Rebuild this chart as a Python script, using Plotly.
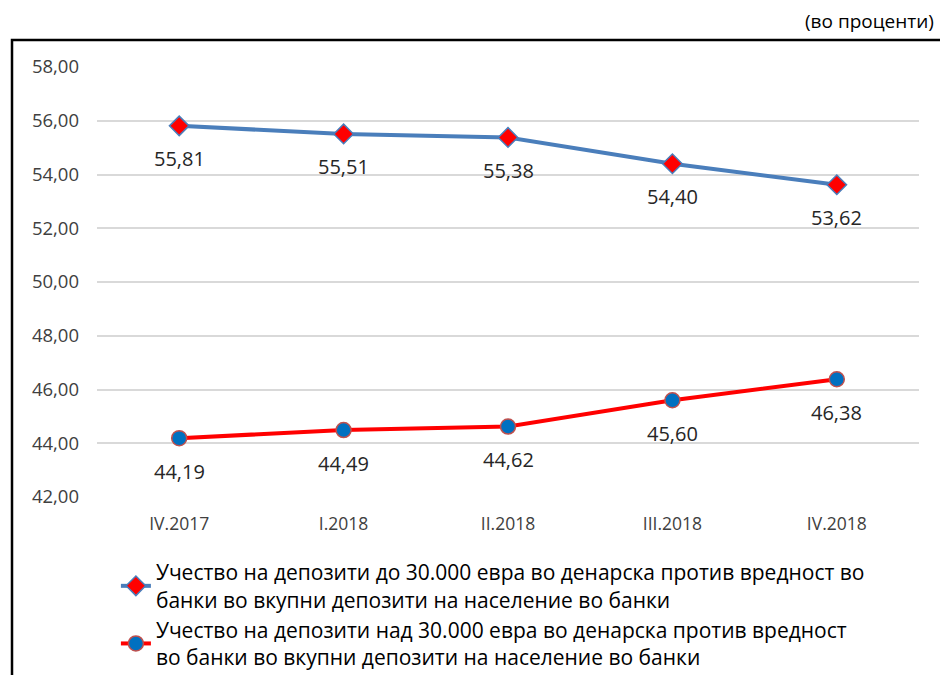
import plotly.graph_objects as go

categories = ["IV.2017", "I.2018", "II.2018", "III.2018", "IV.2018"]
upto_30k = [55.81, 55.51, 55.38, 54.40, 53.62]
over_30k = [44.19, 44.49, 44.62, 45.60, 46.38]
y_ticks = [42, 44, 46, 48, 50, 52, 54, 56, 58]
name_upto = "Учество на депозити до 30.000 евра во денарска против вредност во<br>банки во вкупни депозити на население во банки"
name_over = "Учество на депозити над 30.000 евра во денарска против вредност<br>во банки во вкупни депозити на население во банки"

FONT = "Open Sans, sans-serif"

def fmt(v):
    return f"{v:.2f}".replace(".", ",")

fig = go.Figure()
fig.add_trace(go.Scatter(
    x=categories, y=upto_30k, name=name_upto, mode="lines+markers",
    line=dict(color="#4A7EBB", width=4),
    marker=dict(symbol="diamond", size=15, color="#FF0000", line=dict(color="#4A7EBB", width=1.5)),
))
fig.add_trace(go.Scatter(
    x=categories, y=over_30k, name=name_over, mode="lines+markers",
    line=dict(color="#FF0000", width=4),
    marker=dict(symbol="circle", size=15, color="#0070C0", line=dict(color="#C0504D", width=1.5)),
))

for series in (upto_30k, over_30k):
    for c, v in zip(categories, series):
        fig.add_annotation(x=c, y=v, text=fmt(v), showarrow=False, yshift=-33,
                           font=dict(family=FONT, size=20, color="#262626"))

fig.add_annotation(xref="paper", yref="paper", x=1.021, y=1.073, xanchor="right", yanchor="bottom",
                   text="(во проценти)", showarrow=False,
                   font=dict(family=FONT, size=19, color="#000000"))

fig.add_shape(type="rect", xref="paper", yref="paper", x0=-0.1034, x1=1.1, y0=-0.45, y1=1.0628,
              line=dict(color="#000000", width=2.5), fillcolor="rgba(0,0,0,0)", layer="below")

fig.update_layout(
    width=940, height=675,
    margin=dict(l=97, r=21, t=67, b=178, autoexpand=False),
    paper_bgcolor="white", plot_bgcolor="white",
    font=dict(family=FONT, size=16, color="#404040"),
    showlegend=True,
    legend=dict(x=0.023, y=-0.128, xanchor="left", yanchor="top", orientation="v",
                font=dict(family=FONT, size=21, color="#000000"),
                tracegroupgap=6, bgcolor="rgba(0,0,0,0)"),
    xaxis=dict(type="category", range=[-0.5, 4.5], showgrid=False, showline=False,
               ticks="", ticklabelstandoff=14,
               tickfont=dict(family=FONT, size=17.5, color="#404040")),
    yaxis=dict(range=[42, 58], tickvals=y_ticks, ticktext=[fmt(t) for t in y_ticks],
               showgrid=True, gridcolor="#D9D9D9", gridwidth=1.5, zeroline=False,
               showline=False, ticks="", ticklabelstandoff=17,
               tickfont=dict(family=FONT, size=18.5, color="#404040")),
)

fig.write_html("out.html", config={"displayModeBar": False},
               post_script="document.body.style.margin='0';")
